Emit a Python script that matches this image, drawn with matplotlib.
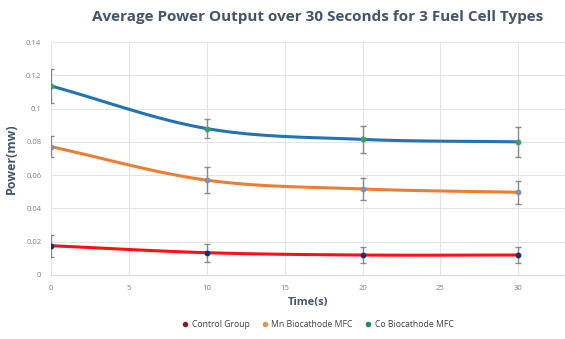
import numpy as np
import matplotlib
matplotlib.use("Agg")
import matplotlib.pyplot as plt
from matplotlib.lines import Line2D

time_s = [0, 10, 20, 30]
control = [0.0176, 0.0134, 0.012, 0.012]
control_err = [0.0065, 0.0055, 0.005, 0.005]
mn = [0.0771, 0.057, 0.0517, 0.0497]
mn_err = [0.0064, 0.0079, 0.0067, 0.0068]
co = [0.1136, 0.088, 0.0815, 0.080]
co_err = [0.010, 0.0058, 0.0083, 0.009]
series_names = ["Control Group", "Mn Biocathode MFC", "Co Biocathode MFC"]
x_ticks = [0, 5, 10, 15, 20, 25, 30]
y_ticks = [0, 0.02, 0.04, 0.06, 0.08, 0.1, 0.12, 0.14]
y_tick_labels = ["0", "0.02", "0.04", "0.06", "0.08", "0.1", "0.12", "0.14"]

plt.rcParams['font.family'] = ['Open Sans', 'DejaVu Sans']


def smooth(xs, ys, n=40):
    xs = np.asarray(xs, float)
    ys = np.asarray(ys, float)
    P = np.column_stack([xs, ys])
    P = np.vstack([P[0] - (P[1] - P[0]), P, P[-1] + (P[-1] - P[-2])])
    out = []
    for i in range(1, len(P) - 2):
        p0, p1, p2, p3 = P[i - 1], P[i], P[i + 1], P[i + 2]
        t = np.linspace(0, 1, n)[:, None]
        pts = 0.5 * ((2 * p1) + (-p0 + p2) * t + (2 * p0 - 5 * p1 + 4 * p2 - p3) * t ** 2
                     + (-p0 + 3 * p1 - 3 * p2 + p3) * t ** 3)
        out.append(pts if i == 1 else pts[1:])
    out = np.vstack(out)
    return out[:, 0], out[:, 1]


fig = plt.figure(figsize=(5.65, 3.39), dpi=100)
ax = fig.add_axes([0.0903, 0.1888, 0.9097, 0.6872])

specs = [
    (control, control_err, "#ff1010", "#1f2f6a"),
    (mn, mn_err, "#ed7d31", "#8090b0"),
    (co, co_err, "#2272b8", "#3aa060"),
]
for vals, errs, lc, mc in specs:
    sx, sy = smooth(time_s, vals)
    ax.plot(sx, sy, color=lc, lw=2.2, solid_capstyle='round', zorder=3)
    ax.errorbar(time_s, vals, yerr=errs, fmt='none', ecolor='#8a8a8a',
                elinewidth=1.0, capsize=2, capthick=1.0, zorder=4)
    ax.plot(time_s, vals, 'o', ms=3.2, color=mc, zorder=5)

ax.set_xlim(0, 33)
ax.set_ylim(0, 0.14)
ax.set_xticks(x_ticks)
ax.set_yticks(y_ticks)
ax.set_yticklabels(y_tick_labels)
ax.tick_params(axis='both', length=0, labelsize=5.5, colors='#7f7f7f', pad=7)
ax.grid(True, color='#e4e4e4', lw=0.8)
ax.set_axisbelow(True)
for s in ['top', 'right', 'left']:
    ax.spines[s].set_visible(False)
ax.spines['bottom'].set_color('#d9d9d9')

ax.set_xlabel("Time(s)", fontsize=8, fontweight='bold', color='#44546a', labelpad=4)
ax.set_ylabel("Power(mw)", fontsize=9, fontweight='bold', color='#44546a', labelpad=6)

fig.text(0.562, 0.95, "Average Power Output over 30 Seconds for 3 Fuel Cell Types",
         ha='center', va='center', fontsize=11, fontweight='bold', color='#44546a')

leg_colors = ["#8b1a2b", "#e8905a", "#1a8a6a"]
handles = [Line2D([], [], marker='o', ls='none', ms=3, color=c) for c in leg_colors]
fig.legend(handles, series_names, loc='center', bbox_to_anchor=(0.562, 0.042), ncol=3,
           frameon=False, fontsize=6.2, handletextpad=0.35, handlelength=0.8,
           columnspacing=1.4, labelcolor='#404040')

fig.savefig("out.png", dpi=100, facecolor='white')
